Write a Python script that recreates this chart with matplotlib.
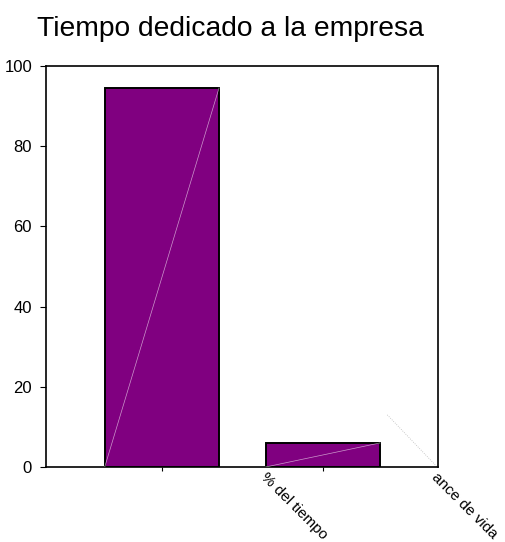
import matplotlib.pyplot as plt

plt.rcParams['font.family'] = ['Liberation Sans', 'DejaVu Sans']

# Data
categories = ["% del tiempo", "ance de vida"]
values = [94.5, 6]
title = "Tiempo dedicado a la empresa"
yticks = [0, 20, 40, 60, 80, 100]

fig = plt.figure(figsize=(5.05, 5.42), dpi=100)
ax = fig.add_axes([0.091, 0.1384, 0.776, 0.74])

x = list(range(len(values)))
ax.bar(x, values, width=0.71, color="#800080", edgecolor="black", linewidth=1.4, zorder=2)

# faint diagonal artefacts inside the bars
for xi, v in zip(x, values):
    ax.plot([xi - 0.355, xi + 0.355], [0, v], color="white", lw=0.5, alpha=0.6, zorder=3)
ax.plot([1.4, 1.71], [13, 0], color="#bbbbbb", lw=0.6, ls=":", zorder=1)

ax.set_xlim(-0.72, 1.714)
ax.set_ylim(0, 100)
ax.set_yticks(yticks)
ax.set_xticks(x)
ax.set_xticklabels([])
ax.tick_params(axis="y", direction="out", length=4, labelsize=12, pad=6)
ax.tick_params(axis="x", direction="out", length=3)
for s in ax.spines.values():
    s.set_linewidth(1.2)

for xi, lab in zip(x, categories):
    ax.text(xi + 0.66 + 0.06 * xi, -0.008, lab, transform=ax.get_xaxis_transform(),
            rotation=-45, rotation_mode="anchor", ha="left", va="top", fontsize=11)

fig.text(0.457, 0.933, title, ha="center", va="baseline", fontsize=20.3)

fig.savefig("out.png", dpi=100)
